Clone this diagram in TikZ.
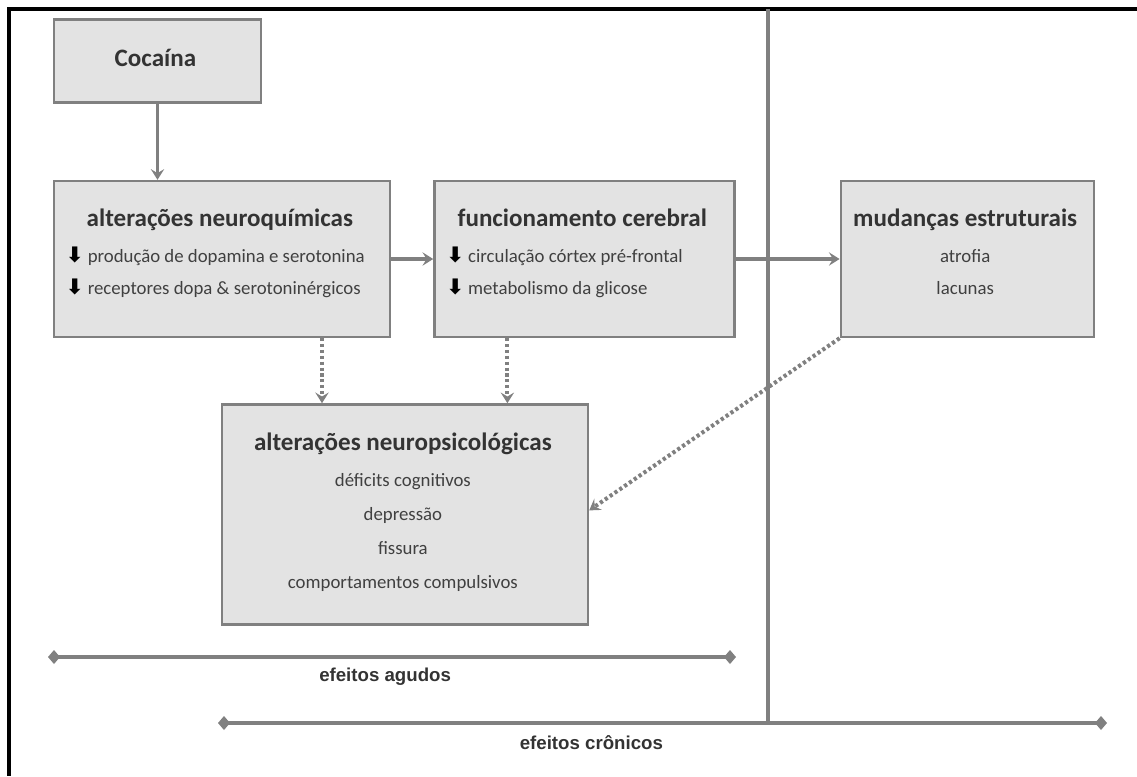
\documentclass[tikz,border=0pt]{standalone}
\usepackage{fontspec}
\setmainfont{Carlito}
\newfontfamily\labelfont{Liberation Sans}
\newfontfamily\symfont{DejaVu Sans}
\usepackage{array}
\usepackage{xcolor}
\usepackage{tikz}
\usetikzlibrary{arrows.meta, positioning}
\definecolor{boxfill}{HTML}{E3E3E3}
\definecolor{boxline}{HTML}{808080}
\definecolor{titlecol}{HTML}{333333}
\definecolor{bodycol}{HTML}{404040}
\newcommand{\down}{{\symfont\bfseries\color{black}\fontsize{16}{16}\selectfont ⬇}\hspace{3pt}}
\newcommand{\boxtitle}[1]{{\bfseries\fontsize{18.8}{22}\selectfont\color{titlecol}#1}}
\tikzset{
  % Box styles
  box/.style={rectangle, draw=boxline, fill=boxfill, line width=1.8pt, inner sep=0pt, text=bodycol, font=\fontsize{14.1}{17}\selectfont, align=center},
  % Connector styles
  arrow/.style={-{Stealth[length=8pt, width=10pt, inset=3pt]}, line width=2.5pt, draw=boxline},
  dotarrow/.style={-{Stealth[length=8pt, width=10pt, inset=3pt]}, line width=3pt, draw=boxline, dash pattern=on 2.4pt off 2pt},
  span/.style={{Diamond[length=9pt, width=10.5pt]}-{Diamond[length=9pt, width=10.5pt]}, line width=3.2pt, draw=boxline},
  divider/.style={line width=2.6pt, draw=boxline},
  frame/.style={line width=3.4pt, draw=black},
  spanlabel/.style={font=\labelfont\bfseries\fontsize{14}{16}\selectfont, text=titlecol},
}
\begin{document}
\begin{tikzpicture}[x=0.75pt, y=-0.75pt]
    \useasboundingbox (0,0) rectangle (1137,776);

    % Frame
    \draw[frame] (1137,9) -- (9,9) -- (9,776);

    % Divider between acute and chronic
    \coordinate (divtop) at (768,9);
    \coordinate (divbot) at (768,723);
    \draw[divider] (divtop) -- (divbot);

    % Neurochemical changes
    \node[box, minimum width=252pt, minimum height=117pt] (neuroq) at (222,259) {
      \begin{tabular}{@{}w{l}{231pt}@{}}
        \multicolumn{1}{@{}c@{}}{\boxtitle{alterações neuroquímicas}}\\[10pt]
        \down produção de dopamina e serotonina\\[7.4pt]
        \down receptores dopa \& serotoninérgicos\\[6pt]
      \end{tabular}
    };

    % Cocaine
    \node[box, minimum width=155.25pt, minimum height=62.25pt, above=57pt of neuroq.north west, anchor=south west] (coca) {
      \begin{tabular}{c}
        \boxtitle{Cocaína}
      \end{tabular}
    };

    % Brain function
    \node[box, minimum width=225pt, minimum height=117pt, right=31.5pt of neuroq] (func) {
      \begin{tabular}{@{}w{l}{204pt}@{}}
        \multicolumn{1}{@{}c@{}}{\boxtitle{funcionamento cerebral}}\\[10pt]
        \down circulação córtex pré-frontal\\[7.4pt]
        \down metabolismo da glicose\\[6pt]
      \end{tabular}
    };

    % Structural changes
    \node[box, minimum width=189.75pt, minimum height=117pt, right=78pt of func] (mud) {
      \begin{tabular}{@{}c@{}}
        \boxtitle{mudanças estruturais}\\[10pt]
        atrofia\\[7.4pt]
        lacunas\\[6pt]
      \end{tabular}
    };

    % Neuropsychological changes
    \node[box, minimum width=274.5pt, minimum height=165pt, below=48.75pt of neuroq.south west, anchor=north west, xshift=126pt] (psico) {
      \begin{tabular}{@{}c@{}}
        \boxtitle{alterações neuropsicológicas}\\[10pt]
        déficits cognitivos\\[8.5pt]
        depressão\\[8.5pt]
        fissura\\[8.5pt]
        comportamentos compulsivos
      \end{tabular}
    };

    % Arrows
    \draw[arrow] (coca.south) -- (coca.south |- neuroq.north);
    \draw[arrow] (neuroq) -- (func);
    \draw[arrow] (func) -- (mud);
    \draw[dotarrow] ([xshift=75pt]neuroq.south) -- ([xshift=75pt]neuroq.south |- psico.north);
    \draw[dotarrow] ([xshift=-57.75pt]func.south) -- ([xshift=-57.75pt]func.south |- psico.north);
    \draw[dotarrow] (mud.south west) -- ([yshift=3pt]psico.east);

    % Time spans
    \coordinate (acuteL) at (48,657);
    \coordinate (acuteR) at (736,657);
    \coordinate (chronL) at (218,723);
    \coordinate (chronR) at (1107,723);
    \draw[span] (acuteL) -- (acuteR) node[spanlabel, pos=0.49, yshift=-15pt] (acute) {efeitos agudos};
    \draw[span] (chronL) -- (chronR) node[spanlabel, pos=0.42, yshift=-15pt] (chronic) {efeitos crônicos};
  \end{tikzpicture}
\end{document}
